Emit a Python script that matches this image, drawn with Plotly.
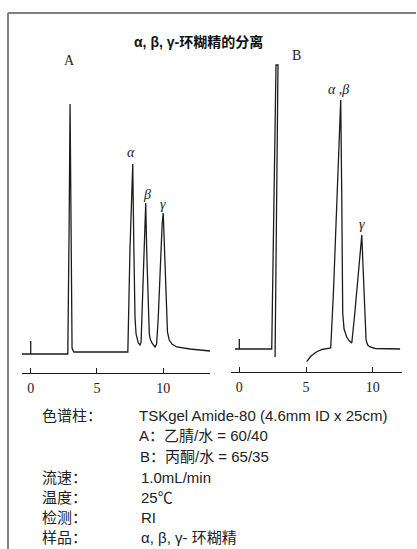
import plotly.graph_objects as go

# ---------------- data ----------------
# Chromatogram A (time in min, signal in arbitrary units, baseline = 0)
time_a = [-0.68, 2.80, 2.90, 2.97, 3.05, 3.12, 3.25, 5.00, 7.33, 7.49, 7.62, 7.70,
          7.78, 7.87, 7.95, 8.02, 8.12, 8.25, 8.33, 8.50, 8.62, 8.68, 8.76, 8.88,
          8.95, 9.02, 9.15, 9.38, 9.50, 9.62, 9.78, 9.92, 10.00, 10.08, 10.20,
          10.32, 10.45, 10.66, 11.02, 12.02, 13.53]
signal_a = [0, 0, 130, 250, 120, 6, 2, 2, 2, 104, 165, 190,
            110, 37, 20, 15, 11, 9, 12, 80, 135, 151, 100, 31,
            20, 15, 11, 7, 10, 35, 90, 130, 141, 110, 55,
            22, 14, 10, 7, 5, 3]

# Chromatogram B
time_b1 = [-0.32, 2.43, 2.75, 2.90, 2.68]
signal_b1 = [0, 0, 284, 284, -8]
time_b2 = [5.05, 5.37, 5.80, 6.20, 6.67, 6.85, 7.05, 7.25, 7.45, 7.60, 7.68,
           7.75, 7.85, 8.05, 8.25, 8.43, 8.65, 8.90, 9.10, 9.18, 9.28, 9.40,
           9.50, 9.62, 9.80, 10.20, 12.05]
signal_b2 = [-12.7, -7, -2.7, -0.5, 0.7, 1, 55, 122, 195, 249, 150,
             36, 20, 12, 8, 6, 35, 75, 105, 114, 80, 35,
             9, 4, 2, 0.5, 0]

# injection markers
inj_time = [0, 0]
inj_a = [0, 13]
inj_b = [0, 10]

ticks = [0, 5, 10]
tick_labels = ["0", "5", "10"]

peak_labels_a = ["α", "β", "γ"]
peak_pos_a = [(7.55, 202), (8.75, 160), (9.98, 150)]
peak_labels_b = ["α ,β", "γ"]
peak_pos_b = [(7.40, 260), (9.18, 125)]

info_keys = ["色谱柱：", "", "", "流速：", "温度：", "检测：", "样品："]
info_vals = ["TSKgel Amide-80 (4.6mm ID x 25cm)", "A：乙腈/水 = 60/40",
             "B：丙酮/水 = 65/35", "1.0mL/min", "25℃", "RI", "α, β, γ- 环糊精"]

# ---------------- figure ----------------
W, H = 417, 549
LINE = dict(color="#1c1c1c", width=1.3)

fig = go.Figure()
fig.add_trace(go.Scatter(x=time_a, y=signal_a, mode="lines", line=LINE,
                         xaxis="x", yaxis="y", hoverinfo="skip"))
fig.add_trace(go.Scatter(x=inj_time, y=inj_a, mode="lines", line=LINE,
                         xaxis="x", yaxis="y", hoverinfo="skip"))
fig.add_trace(go.Scatter(x=time_b1, y=signal_b1, mode="lines", line=LINE,
                         xaxis="x2", yaxis="y2", hoverinfo="skip"))
fig.add_trace(go.Scatter(x=time_b2, y=signal_b2, mode="lines", line=LINE,
                         xaxis="x2", yaxis="y2", hoverinfo="skip"))
fig.add_trace(go.Scatter(x=inj_time, y=inj_b, mode="lines", line=LINE,
                         xaxis="x2", yaxis="y2", hoverinfo="skip"))


def px_x(p):
    return p / W


def px_y(p):
    return 1 - p / H


axis_common = dict(showline=True, linecolor="#1c1c1c", linewidth=1.3,
                   ticks="inside", ticklen=5, tickwidth=1.2, tickcolor="#1c1c1c",
                   tickvals=ticks, ticktext=tick_labels, showgrid=False,
                   zeroline=False, ticklabelstandoff=2,
                   tickfont=dict(family="Liberation Serif, serif", size=14, color="#1c1c1c"))

fig.update_layout(
    width=W, height=H, margin=dict(l=0, r=0, t=0, b=0),
    paper_bgcolor="white", plot_bgcolor="rgba(0,0,0,0)", showlegend=False,
    xaxis=dict(domain=[px_x(21.7), px_x(210)], range=[-0.68, 13.53],
               anchor="y", **axis_common),
    yaxis=dict(domain=[px_y(373), px_y(54)], range=[-19, 300], visible=False),
    xaxis2=dict(domain=[px_x(230.7), px_x(401.7)], range=[-0.645, 12.17],
                anchor="y2", **axis_common),
    yaxis2=dict(domain=[px_y(372), px_y(49)], range=[-23, 300], visible=False),
)

# frame lines
fig.add_shape(type="line", xref="paper", yref="paper", x0=px_x(8), x1=px_x(416),
              y0=px_y(13), y1=px_y(13), line=dict(color="#808080", width=2))
fig.add_shape(type="line", xref="paper", yref="paper", x0=px_x(8), x1=px_x(8),
              y0=px_y(13), y1=0, line=dict(color="#808080", width=2))

serif = "Liberation Serif, serif"
ann = []
ann.append(dict(text="<b>α, β, γ-环糊精的分离</b>", xref="paper", yref="paper",
                x=px_x(198), y=px_y(32), showarrow=False,
                font=dict(family="Liberation Sans, Noto Sans CJK SC, sans-serif",
                          size=14, color="#111")))
ann.append(dict(text="A", xref="x", yref="y", x=2.89, y=294, showarrow=False,
                font=dict(family=serif, size=14, color="#1c1c1c")))
ann.append(dict(text="B", xref="x2", yref="y2", x=4.30, y=294, showarrow=False,
                font=dict(family=serif, size=14, color="#1c1c1c")))
for lab, (tx, ty) in zip(peak_labels_a, peak_pos_a):
    ann.append(dict(text="<i>%s</i>" % lab, xref="x", yref="y", x=tx, y=ty,
                    showarrow=False, font=dict(family=serif, size=14, color="#1c1c1c")))
for lab, (tx, ty) in zip(peak_labels_b, peak_pos_b):
    ann.append(dict(text="<i>%s</i>" % lab, xref="x2", yref="y2", x=tx, y=ty,
                    showarrow=False, font=dict(family=serif, size=14, color="#1c1c1c")))

info_font = dict(family="Liberation Sans, Noto Sans CJK SC, sans-serif", size=15,
                 color="#222")
row_y = [415, 435.7, 456, 477, 497, 517, 537]
val_x = [136.5, 136.5, 138, 139, 139, 139, 139]
for k, v, ry, vx in zip(info_keys, info_vals, row_y, val_x):
    if k:
        ann.append(dict(text=k, xref="paper", yref="paper", x=px_x(40), y=px_y(ry),
                        xanchor="left", yanchor="middle", showarrow=False, font=info_font))
    ann.append(dict(text=v, xref="paper", yref="paper", x=px_x(vx), y=px_y(ry),
                    xanchor="left", yanchor="middle", showarrow=False, font=info_font))

fig.update_layout(annotations=ann)
fig.write_html("out.html")
